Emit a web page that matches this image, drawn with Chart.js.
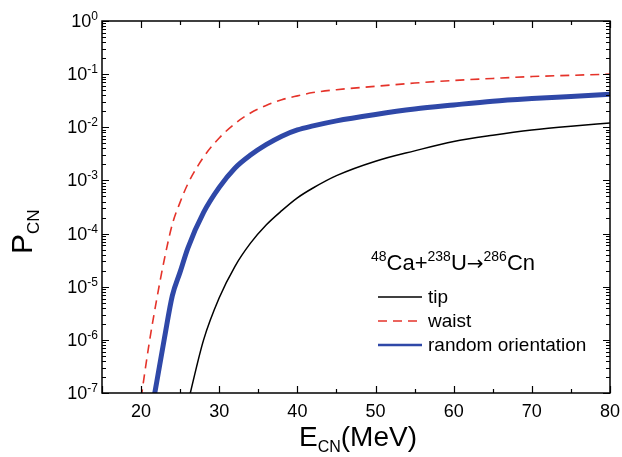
<!DOCTYPE html>
<html>
<head>
<meta charset="utf-8">
<script src="https://cdn.jsdelivr.net/npm/chart.js@4"></script>
<style>
  html, body { margin: 0; padding: 0; background: #fff; }
  #wrap { width: 622px; height: 457px; }
</style>
</head>
<body>
<div id="wrap"><canvas id="chart" width="622" height="457"></canvas></div>
<script>
// Energies (MeV) and P_CN values
const tipE   = [26, 28, 30, 32, 34, 36, 38, 40, 42, 45, 50, 55, 60, 65, 70, 75, 80];
const tipP   = [6.6e-8, 1.0e-6, 6.2e-6, 2.4e-5, 6.6e-5, 1.45e-4, 2.7e-4, 4.7e-4, 7.2e-4, 1.23e-3, 2.3e-3, 3.6e-3, 5.4e-3, 7.1e-3, 8.9e-3, 1.05e-2, 1.2e-2];

const waistE = [20, 21, 22, 23, 24, 25, 26, 28, 30, 32, 34, 36, 38, 40, 42, 45, 50, 55, 60, 65, 70, 75, 80];
const waistP = [8e-8, 8e-7, 5.8e-6, 3.4e-5, 1.5e-4, 3.9e-4, 8.7e-4, 2.75e-3, 6.3e-3, 1.17e-2, 1.86e-2, 2.57e-2, 3.3e-2, 3.9e-2, 4.5e-2, 5.1e-2, 5.9e-2, 6.8e-2, 7.6e-2, 8.3e-2, 9.0e-2, 9.5e-2, 0.1];

const randE  = [21, 22, 23, 24, 25, 26, 28, 30, 32, 34, 36, 38, 40, 42, 45, 50, 55, 60, 65, 70, 75, 80];
const randP  = [2.4e-8, 1.6e-7, 1.1e-6, 6.8e-6, 1.9e-5, 5.4e-5, 2.5e-4, 7.4e-4, 1.7e-3, 3.0e-3, 4.7e-3, 6.8e-3, 8.9e-3, 1.06e-2, 1.32e-2, 1.74e-2, 2.2e-2, 2.63e-2, 3.1e-2, 3.47e-2, 3.8e-2, 4.17e-2];

const xTicks = [20, 30, 40, 50, 60, 70, 80];
const xMinor = [15, 25, 35, 45, 55, 65, 75];
const yExps  = [0, -1, -2, -3, -4, -5, -6, -7];

const FONT = '"Liberation Sans", Arial, Helvetica, sans-serif';
const RED = '#e5332a';
const BLUE = '#2f48a8';

function pts(xs, ys) {
  return xs.map((x, i) => ({ x: x, y: ys[i] }));
}

// frame, inward ticks, tick labels, axis titles, legend
const decor = {
  id: 'decor',
  afterDraw(chart) {
    const ctx = chart.ctx;
    const xs = chart.scales.x, ys = chart.scales.y;
    const a = chart.chartArea;
    ctx.save();
    ctx.strokeStyle = '#000';
    ctx.lineWidth = 1.5;
    ctx.strokeRect(a.left, a.top, a.right - a.left, a.bottom - a.top);

    ctx.lineWidth = 1.2;
    ctx.beginPath();
    // x ticks bottom + top
    xTicks.concat([15]).forEach(v => {
      const p = Math.round(xs.getPixelForValue(v)) + 0.5;
      ctx.moveTo(p, a.bottom); ctx.lineTo(p, a.bottom - 7);
      ctx.moveTo(p, a.top); ctx.lineTo(p, a.top + 7);
    });
    xMinor.forEach(v => {
      const p = Math.round(xs.getPixelForValue(v)) + 0.5;
      ctx.moveTo(p, a.bottom); ctx.lineTo(p, a.bottom - 4);
      ctx.moveTo(p, a.top); ctx.lineTo(p, a.top + 4);
    });
    // y ticks left + right
    yExps.forEach(e => {
      const p = Math.round(ys.getPixelForValue(Math.pow(10, e))) + 0.5;
      ctx.moveTo(a.left, p); ctx.lineTo(a.left + 7, p);
      ctx.moveTo(a.right, p); ctx.lineTo(a.right - 7, p);
      if (e < 0) {
        for (let m = 2; m <= 9; m++) {
          const q = Math.round(ys.getPixelForValue(m * Math.pow(10, e))) + 0.5;
          ctx.moveTo(a.left, q); ctx.lineTo(a.left + 4, q);
          ctx.moveTo(a.right, q); ctx.lineTo(a.right - 4, q);
        }
      }
    });
    ctx.stroke();

    ctx.fillStyle = '#000';
    // x tick labels
    ctx.font = '18px ' + FONT;
    ctx.textAlign = 'center';
    ctx.textBaseline = 'middle';
    xTicks.forEach(v => {
      ctx.fillText(String(v), xs.getPixelForValue(v), a.bottom + 19);
    });
    // y tick labels 10^e
    yExps.forEach(e => {
      const p = ys.getPixelForValue(Math.pow(10, e));
      const ex = e === 0 ? '0' : '-' + (-e);
      ctx.font = '12px ' + FONT;
      ctx.textAlign = 'right';
      ctx.textBaseline = 'alphabetic';
      const ew = ctx.measureText(ex).width;
      ctx.fillText(ex, a.left - 4, p - 1);
      ctx.font = '18px ' + FONT;
      ctx.fillText('10', a.left - 4 - ew, p + 6);
    });

    // x axis title E_CN(MeV)
    ctx.textAlign = 'left';
    ctx.textBaseline = 'alphabetic';
    let x = 299;
    const by = 446;
    ctx.font = '28px ' + FONT;
    ctx.fillText('E', x, by); x += ctx.measureText('E').width;
    ctx.font = '16px ' + FONT;
    ctx.fillText('CN', x, by + 6); x += ctx.measureText('CN').width;
    ctx.font = '28px ' + FONT;
    ctx.fillText('(MeV)', x, by);

    // y axis title P_CN
    ctx.save();
    ctx.translate(32, 254);
    ctx.rotate(-Math.PI / 2);
    let t = 0;
    ctx.font = '30px ' + FONT;
    ctx.fillText('P', t, 0); t += ctx.measureText('P').width;
    ctx.font = '17px ' + FONT;
    ctx.fillText('CN', t, 7);
    ctx.restore();

    // legend title 48Ca+238U→286Cn
    const parts = [['48', 1], ['Ca+', 0], ['238', 1], ['U', 0], ['\u2192', 2], ['286', 1], ['Cn', 0]];
    let lx = 371;
    const ly = 270;
    parts.forEach(([s, kind]) => {
      if (kind === 1) ctx.font = '14px ' + FONT;
      else if (kind === 2) ctx.font = '20px "DejaVu Sans", sans-serif';
      else ctx.font = '22px ' + FONT;
      ctx.fillText(s, lx, kind === 1 ? ly - 9 : ly);
      lx += ctx.measureText(s).width;
    });

    // legend entries
    const items = [
      ['tip', '#000', 1.5, []],
      ['waist', RED, 1.5, [9, 6]],
      ['random orientation', BLUE, 2.5, []]
    ];
    const rows = [297, 321, 345];
    ctx.font = '19px ' + FONT;
    ctx.textBaseline = 'middle';
    items.forEach((it, i) => {
      ctx.strokeStyle = it[1];
      ctx.lineWidth = it[2];
      ctx.setLineDash(it[3]);
      ctx.beginPath();
      ctx.moveTo(378, rows[i]);
      ctx.lineTo(422, rows[i]);
      ctx.stroke();
      ctx.setLineDash([]);
      ctx.fillStyle = '#000';
      ctx.fillText(it[0], 428, rows[i] + 1);
    });
    ctx.restore();
  }
};

new Chart(document.getElementById('chart'), {
  type: 'line',
  data: {
    datasets: [
      {
        label: 'tip',
        data: pts(tipE, tipP),
        borderColor: '#000',
        borderWidth: 1.5,
        pointRadius: 0,
        cubicInterpolationMode: 'monotone'
      },
      {
        label: 'waist',
        data: pts(waistE, waistP),
        borderColor: RED,
        borderWidth: 1.6,
        borderDash: [9, 6],
        pointRadius: 0,
        cubicInterpolationMode: 'monotone'
      },
      {
        label: 'random orientation',
        data: pts(randE, randP),
        borderColor: BLUE,
        borderWidth: 5,
        pointRadius: 0,
        cubicInterpolationMode: 'monotone'
      }
    ]
  },
  options: {
    responsive: false,
    animation: false,
    layout: { padding: { top: 21, right: 12, left: 0, bottom: 0 } },
    plugins: {
      legend: { display: false },
      tooltip: { enabled: false }
    },
    scales: {
      x: {
        type: 'linear',
        min: 15,
        max: 80,
        grid: { display: false },
        border: { display: false },
        ticks: { display: false },
        afterFit(s) { s.height = 64; }
      },
      y: {
        type: 'logarithmic',
        min: 1e-7,
        max: 1,
        grid: { display: false },
        border: { display: false },
        ticks: { display: false },
        afterFit(s) { s.width = 102; }
      }
    }
  },
  plugins: [decor]
});
</script>
</body>
</html>
